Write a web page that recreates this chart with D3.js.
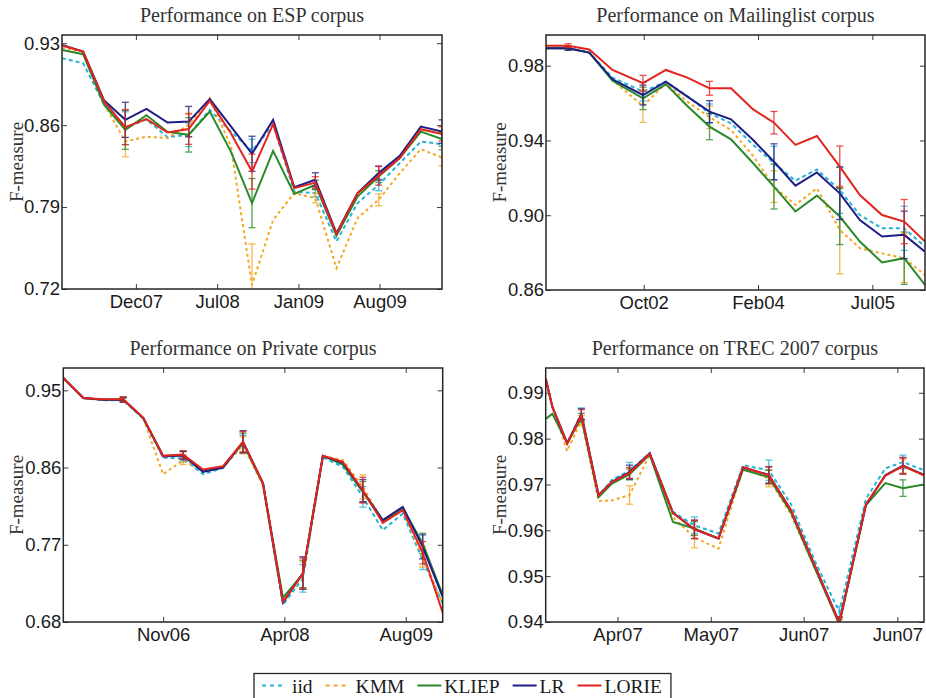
<!DOCTYPE html>
<html>
<head>
<meta charset="utf-8">
<script src="https://cdn.jsdelivr.net/npm/d3@7"></script>
<style>
  body { margin: 0; background: #ffffff; }
  svg { display: block; }
</style>
</head>
<body>
<svg id="chart" width="926" height="698"></svg>
<script>
// ---------------- data ----------------
const seriesNames = ["iid", "KMM", "KLIEP", "LR", "LORIE"];

// ESP corpus (19 evaluation points)
const espX = [0, 1, 2, 3, 4, 5, 6, 7, 8, 9, 10, 11, 12, 13, 14, 15, 16, 17, 18];
const espTickValues = [3.5, 7.35, 11.2, 15.04];
const espTickLabels = ["Dec07", "Jul08", "Jan09", "Aug09"];
const espYTicks = [0.72, 0.79, 0.86, 0.93];
const espIid   = [0.9172, 0.9129, 0.8773, 0.8574, 0.8650, 0.8497, 0.8517, 0.8730, 0.8545, 0.8380, 0.8602, 0.8033, 0.8019, 0.7606, 0.7934, 0.8090, 0.8275, 0.8460, 0.8437];
const espKmm   = [0.9260, 0.9228, 0.8780, 0.8460, 0.8502, 0.8489, 0.8602, 0.8830, 0.8420, 0.7235, 0.7790, 0.8019, 0.7976, 0.7378, 0.7806, 0.7962, 0.8190, 0.8395, 0.8323];
const espKliep = [0.9243, 0.9206, 0.8773, 0.8560, 0.8685, 0.8542, 0.8517, 0.8716, 0.8374, 0.7934, 0.8380, 0.8013, 0.8090, 0.7655, 0.7990, 0.8161, 0.8318, 0.8545, 0.8480];
const espLr    = [0.9285, 0.9228, 0.8810, 0.8645, 0.8739, 0.8622, 0.8630, 0.8822, 0.8590, 0.8355, 0.8645, 0.8070, 0.8133, 0.7677, 0.8019, 0.8190, 0.8338, 0.8588, 0.8545];
const espLorie = [0.9280, 0.9228, 0.8801, 0.8583, 0.8651, 0.8537, 0.8566, 0.8807, 0.8531, 0.8203, 0.8608, 0.8062, 0.8109, 0.7670, 0.8019, 0.8167, 0.8318, 0.8565, 0.8525];
const espErrIdx = [3, 6, 9, 12, 15, 18];
const espErrIid   = [0.014, 0.010, 0.010, 0.003, 0.005, 0.005];
const espErrKmm   = [0.013, 0.010, 0.035, 0.004, 0.005, 0.007];
const espErrKliep = [0.0166, 0.0147, 0.021, 0.004, 0.005, 0.006];
const espErrLr    = [0.015, 0.013, 0.015, 0.006, 0.006, 0.010];
const espErrLorie = [0.015, 0.013, 0.015, 0.005, 0.008, 0.006];

// Mailinglist corpus (months from first evaluation)
const mailX = [0, 3.2, 6.25, 9.6, 14.0, 17.3, 20.4, 23.6, 26.7, 29.9, 32.9, 36.0, 39.1, 42.4, 45.3, 48.5, 51.7, 54.7];
const mailTickValues = [14.1, 30.6, 47.1];
const mailTickLabels = ["Oct02", "Feb04", "Jul05"];
const mailYTicks = [0.86, 0.90, 0.94, 0.98];
const mailIid   = [0.9893, 0.9893, 0.9870, 0.9736, 0.9661, 0.9714, 0.9638, 0.9545, 0.9492, 0.9376, 0.9278, 0.9185, 0.9245, 0.9135, 0.9001, 0.8930, 0.8930, 0.8832];
const mailKmm   = [0.9893, 0.9893, 0.9870, 0.9723, 0.9584, 0.9706, 0.9608, 0.9524, 0.9456, 0.9317, 0.9153, 0.9055, 0.9144, 0.8921, 0.8823, 0.8796, 0.8770, 0.8681];
const mailKliep = [0.9893, 0.9893, 0.9870, 0.9720, 0.9625, 0.9700, 0.9584, 0.9474, 0.9406, 0.9278, 0.9153, 0.9020, 0.9105, 0.8993, 0.8859, 0.8747, 0.8770, 0.8627];
const mailLr    = [0.9893, 0.9893, 0.9870, 0.9727, 0.9643, 0.9714, 0.9634, 0.9554, 0.9513, 0.9402, 0.9286, 0.9158, 0.9229, 0.9117, 0.8974, 0.8886, 0.8895, 0.8805];
const mailLorie = [0.9907, 0.9907, 0.9887, 0.9777, 0.9706, 0.9777, 0.9736, 0.9679, 0.9679, 0.9566, 0.9495, 0.9376, 0.9424, 0.9260, 0.9108, 0.9001, 0.8966, 0.8859];
const mailErrIdx = [1, 4, 7, 10, 13, 16];
const mailErrIid   = [0.001, 0.005, 0.005, 0.009, 0.0125, 0.0118];
const mailErrKmm   = [0.001, 0.0087, 0.006, 0.0085, 0.0235, 0.013];
const mailErrKliep = [0.001, 0.006, 0.007, 0.012, 0.015, 0.014];
const mailErrLr    = [0.001, 0.0053, 0.0059, 0.0096, 0.014, 0.0127];
const mailErrLorie = [0.001, 0.0042, 0.0037, 0.006, 0.011, 0.0118];

// Private corpus (20 evaluation points)
const privX = [0, 1, 2, 3, 4, 5, 6, 7, 8, 9, 10, 11, 12, 13, 14, 15, 16, 17, 18, 19];
const privTickValues = [5.0, 11.07, 17.15];
const privTickLabels = ["Nov06", "Apr08", "Aug09"];
const privYTicks = [0.68, 0.77, 0.86, 0.95];
const privIid   = [0.9644, 0.9410, 0.9385, 0.9385, 0.9170, 0.8715, 0.8705, 0.8522, 0.8595, 0.8875, 0.8400, 0.7000, 0.7308, 0.8716, 0.8608, 0.8258, 0.7870, 0.8064, 0.7521, 0.7017];
const privKmm   = [0.9644, 0.9410, 0.9390, 0.9390, 0.9175, 0.8522, 0.8685, 0.8560, 0.8600, 0.8860, 0.8390, 0.7036, 0.7350, 0.8736, 0.8685, 0.8375, 0.7970, 0.8100, 0.7560, 0.7017];
const privKliep = [0.9644, 0.9410, 0.9390, 0.9393, 0.9180, 0.8735, 0.8745, 0.8555, 0.8605, 0.8890, 0.8410, 0.7083, 0.7360, 0.8736, 0.8635, 0.8317, 0.7975, 0.8125, 0.7715, 0.7114];
const privLr    = [0.9644, 0.9411, 0.9390, 0.9390, 0.9180, 0.8730, 0.8740, 0.8550, 0.8600, 0.8900, 0.8420, 0.7025, 0.7370, 0.8736, 0.8655, 0.8330, 0.7987, 0.8142, 0.7676, 0.7094];
const privLorie = [0.9644, 0.9411, 0.9395, 0.9395, 0.9182, 0.8736, 0.8751, 0.8577, 0.8615, 0.8899, 0.8414, 0.7036, 0.7366, 0.8736, 0.8666, 0.8336, 0.7956, 0.8103, 0.7607, 0.6908];
const privErrIdx = [3, 6, 9, 12, 15, 18];
const privErrIid   = [0.002, 0.004, 0.010, 0.016, 0.012, 0.011];
const privErrKmm   = [0.002, 0.005, 0.010, 0.015, 0.014, 0.012];
const privErrKliep = [0.002, 0.004, 0.011, 0.016, 0.012, 0.012];
const privErrLr    = [0.003, 0.005, 0.013, 0.019, 0.013, 0.014];
const privErrLorie = [0.003, 0.0045, 0.012, 0.018, 0.015, 0.013];

// TREC 2007 corpus (days from first evaluation)
const trecX = [0, 1.55, 5.0, 8.3, 12.3, 15.4, 19.5, 24.2, 29.6, 34.6, 40.2, 45.9, 51.9, 57.0, 62.5, 68.3, 74.5, 79.0, 83.1, 88.0];
const trecTickValues = [16.7, 38.4, 60.0, 81.8];
const trecTickLabels = ["Apr07", "May07", "Jun07", "Jun07"];
const trecYTicks = [0.94, 0.95, 0.96, 0.97, 0.98, 0.99];
const trecIid   = [0.9930, 0.9870, 0.9790, 0.9855, 0.9675, 0.9710, 0.9730, 0.9768, 0.9640, 0.9611, 0.9593, 0.9742, 0.9731, 0.9658, 0.9535, 0.9422, 0.9669, 0.9735, 0.9749, 0.9731];
const trecKmm   = [0.9930, 0.9870, 0.9773, 0.9840, 0.9664, 0.9665, 0.9677, 0.9765, 0.9629, 0.9584, 0.9560, 0.9735, 0.9713, 0.9635, 0.9520, 0.9398, 0.9655, 0.9720, 0.9740, 0.9720];
const trecKliep = [0.9843, 0.9854, 0.9790, 0.9845, 0.9672, 0.9702, 0.9722, 0.9765, 0.9618, 0.9604, 0.9582, 0.9732, 0.9716, 0.9640, 0.9520, 0.9395, 0.9655, 0.9703, 0.9692, 0.9700];
const trecLr    = [0.9931, 0.9869, 0.9790, 0.9853, 0.9677, 0.9706, 0.9727, 0.9768, 0.9638, 0.9602, 0.9582, 0.9737, 0.9721, 0.9645, 0.9525, 0.9399, 0.9656, 0.9720, 0.9741, 0.9721];
const trecLorie = [0.9931, 0.9869, 0.9789, 0.9851, 0.9676, 0.9705, 0.9725, 0.9767, 0.9638, 0.9602, 0.9582, 0.9738, 0.9720, 0.9645, 0.9525, 0.9398, 0.9657, 0.9719, 0.9740, 0.9720];
const trecErrIdx = [3, 6, 9, 12, 15, 18];
const trecErrIid   = [0.0012, 0.0018, 0.0018, 0.0022, 0.0012, 0.0015];
const trecErrKmm   = [0.0010, 0.0020, 0.0022, 0.0018, 0.0012, 0.0015];
const trecErrKliep = [0.0010, 0.0012, 0.0015, 0.0015, 0.0010, 0.0018];
const trecErrLr    = [0.0012, 0.0015, 0.0020, 0.0018, 0.0012, 0.0018];
const trecErrLorie = [0.0012, 0.0012, 0.0020, 0.0018, 0.0012, 0.0018];

// ---------------- styling ----------------
const seriesStyle = {
  iid:   { color: "#27b3d6", dash: "4,3" },
  KMM:   { color: "#f6a623", dash: "3,3" },
  KLIEP: { color: "#2a8a2a", dash: null },
  LR:    { color: "#1d1d86", dash: null },
  LORIE: { color: "#e3231c", dash: null }
};
const sansFont = "'Liberation Sans', Arial, Helvetica, sans-serif";
const serifFont = "'Liberation Serif', 'Times New Roman', serif";

const panels = [
  { title: "Performance on ESP corpus", box: [62, 35, 442, 289], xs: espX, xDomain: [0, 18], yDomain: [0.72, 0.937],
    xTicks: espTickValues, xLabels: espTickLabels, yTicks: espYTicks, labelX: 16.7,
    values: [espIid, espKmm, espKliep, espLr, espLorie], errIdx: espErrIdx,
    errs: [espErrIid, espErrKmm, espErrKliep, espErrLr, espErrLorie] },
  { title: "Performance on Mailinglist corpus", box: [546, 35, 925, 290], xs: mailX, xDomain: [0, 54.7], yDomain: [0.86, 0.9964],
    xTicks: mailTickValues, xLabels: mailTickLabels, yTicks: mailYTicks, labelX: 499.3,
    values: [mailIid, mailKmm, mailKliep, mailLr, mailLorie], errIdx: mailErrIdx,
    errs: [mailErrIid, mailErrKmm, mailErrKliep, mailErrLr, mailErrLorie] },
  { title: "Performance on Private corpus", box: [63.3, 368, 442.7, 622], xs: privX, xDomain: [0, 19], yDomain: [0.68, 0.976],
    xTicks: privTickValues, xLabels: privTickLabels, yTicks: privYTicks, labelX: 16.7,
    values: [privIid, privKmm, privKliep, privLr, privLorie], errIdx: privErrIdx,
    errs: [privErrIid, privErrKmm, privErrKliep, privErrLr, privErrLorie] },
  { title: "Performance on TREC 2007 corpus", box: [545.7, 368, 924, 622], xs: trecX, xDomain: [0, 88], yDomain: [0.94, 0.9954],
    xTicks: trecTickValues, xLabels: trecTickLabels, yTicks: trecYTicks, labelX: 499.3,
    values: [trecIid, trecKmm, trecKliep, trecLr, trecLorie], errIdx: trecErrIdx,
    errs: [trecErrIid, trecErrKmm, trecErrKliep, trecErrLr, trecErrLorie] }
];

const svg = d3.select("#chart");
const defs = svg.append("defs");

function drawPanel(p, pi) {
  const [x0, y0, x1, y1] = p.box;
  const x = d3.scaleLinear().domain(p.xDomain).range([x0, x1]);
  const y = d3.scaleLinear().domain(p.yDomain).range([y1, y0]);
  const g = svg.append("g");

  const clipId = "plot-clip-" + pi;
  defs.append("clipPath").attr("id", clipId)
    .append("rect").attr("x", x0).attr("y", y0).attr("width", x1 - x0).attr("height", y1 - y0);

  // axes with inward ticks on all four sides
  const tickLen = 5;
  const bottom = g.append("g").attr("transform", `translate(0,${y1})`)
    .call(d3.axisBottom(x).tickValues(p.xTicks).tickFormat((d, i) => p.xLabels[i])
      .tickSize(-tickLen).tickPadding(6));
  const top = g.append("g").attr("transform", `translate(0,${y0})`)
    .call(d3.axisTop(x).tickValues(p.xTicks).tickFormat("").tickSize(-tickLen));
  const left = g.append("g").attr("transform", `translate(${x0},0)`)
    .call(d3.axisLeft(y).tickValues(p.yTicks).tickFormat(d3.format(".2f"))
      .tickSize(-tickLen).tickPadding(2));
  const right = g.append("g").attr("transform", `translate(${x1},0)`)
    .call(d3.axisRight(y).tickValues(p.yTicks).tickFormat("").tickSize(-tickLen));
  [bottom, top, left, right].forEach(a => {
    a.select(".domain").remove();
    a.selectAll(".tick line").attr("stroke", "#3a3a3a").attr("stroke-width", 1);
    a.selectAll("text").attr("font-family", sansFont).attr("font-size", 18.5).attr("fill", "#1a1a1a");
  });

  // series: error bars and lines
  const plot = g.append("g").attr("clip-path", `url(#${clipId})`);
  seriesNames.forEach((name, si) => {
    const st = seriesStyle[name];
    const vals = p.values[si];
    const errs = p.errs[si];
    const sg = plot.append("g");
    const line = d3.line().x((d, j) => x(p.xs[j])).y(d => y(d));
    sg.append("path").datum(vals)
      .attr("d", line)
      .attr("fill", "none")
      .attr("stroke", st.color)
      .attr("stroke-width", 2)
      .attr("stroke-linejoin", "miter")
      .attr("stroke-dasharray", st.dash);
    const bars = sg.selectAll(".err").data(p.errIdx.map((k, j) => ({ k, e: errs[j] })))
      .enter().append("g").attr("class", "err")
      .attr("stroke", st.color).attr("stroke-width", 1.3).attr("opacity", 0.8);
    const cap = 3.5;
    bars.append("line")
      .attr("x1", d => x(p.xs[d.k])).attr("x2", d => x(p.xs[d.k]))
      .attr("y1", d => y(vals[d.k] - d.e)).attr("y2", d => y(vals[d.k] + d.e));
    bars.append("line")
      .attr("x1", d => x(p.xs[d.k]) - cap).attr("x2", d => x(p.xs[d.k]) + cap)
      .attr("y1", d => y(vals[d.k] + d.e)).attr("y2", d => y(vals[d.k] + d.e));
    bars.append("line")
      .attr("x1", d => x(p.xs[d.k]) - cap).attr("x2", d => x(p.xs[d.k]) + cap)
      .attr("y1", d => y(vals[d.k] - d.e)).attr("y2", d => y(vals[d.k] - d.e));
  });

  // frame
  g.append("rect").attr("x", x0).attr("y", y0).attr("width", x1 - x0).attr("height", y1 - y0)
    .attr("fill", "none").attr("stroke", "#262626").attr("stroke-width", 1.5);

  // title
  g.append("text").attr("x", (x0 + x1) / 2).attr("y", y0 - 13)
    .attr("text-anchor", "middle").attr("font-family", serifFont).attr("font-size", 20)
    .attr("fill", "#333").text(p.title);

  // y axis label
  g.append("text")
    .attr("transform", `translate(${p.labelX},${(y0 + y1) / 2}) rotate(-90)`)
    .attr("dy", "0.35em").attr("text-anchor", "middle")
    .attr("font-family", serifFont).attr("font-size", 19).attr("fill", "#333")
    .text("F-measure");
}

panels.forEach(drawPanel);

// ---------------- legend ----------------
const legend = svg.append("g");
const legendBox = legend.append("rect")
  .attr("y", 673.5).attr("height", 32)
  .attr("fill", "#fff").attr("stroke", "#262626").attr("stroke-width", 1.3);
let lx = 262;
const ly = 685.5;
seriesNames.forEach(name => {
  const st = seriesStyle[name];
  legend.append("line").attr("x1", lx).attr("x2", lx + 24).attr("y1", ly).attr("y2", ly)
    .attr("stroke", st.color).attr("stroke-width", 2).attr("stroke-dasharray", st.dash ? "4,4" : null);
  const t = legend.append("text").attr("x", lx + (st.dash ? 30 : 27)).attr("y", 692.5)
    .attr("font-family", serifFont).attr("font-size", 19.5).attr("fill", "#1a1a1a").text(name);
  const end = lx + (st.dash ? 30 : 27) + t.node().getComputedTextLength();
  lx = end + 13;
});
legendBox.attr("x", 254).attr("width", lx - 13 + 9 - 254);
</script>
</body>
</html>
